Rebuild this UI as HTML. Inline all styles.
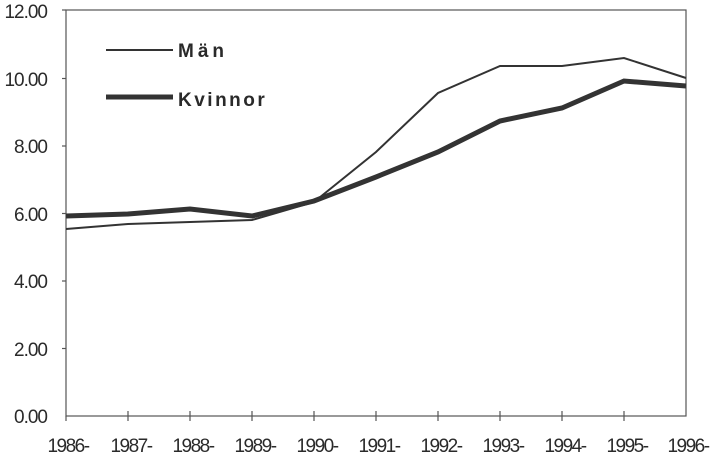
<!DOCTYPE html>
<html><head><meta charset="utf-8"><style>
html,body{margin:0;padding:0;background:#fff;}
svg{display:block;}
text{font-family:"Liberation Sans",sans-serif;fill:#2a2a2a;}
</style></head><body>
<svg width="713" height="457" viewBox="0 0 713 457" xmlns="http://www.w3.org/2000/svg">
<rect x="66" y="10" width="620" height="406" fill="none" stroke="#555" stroke-width="1.2"/>
<g stroke="#555" stroke-width="1.2">
<line x1="62" y1="10" x2="66" y2="10"/><line x1="62" y1="78.5" x2="66" y2="78.5"/><line x1="62" y1="146" x2="66" y2="146"/><line x1="62" y1="213.5" x2="66" y2="213.5"/><line x1="62" y1="281" x2="66" y2="281"/><line x1="62" y1="348.5" x2="66" y2="348.5"/>
<line x1="128" y1="411" x2="128" y2="421"/><line x1="190" y1="411" x2="190" y2="421"/><line x1="252" y1="411" x2="252" y2="421"/><line x1="314" y1="411" x2="314" y2="421"/><line x1="376" y1="411" x2="376" y2="421"/><line x1="438" y1="411" x2="438" y2="421"/><line x1="500" y1="411" x2="500" y2="421"/><line x1="562" y1="411" x2="562" y2="421"/><line x1="624" y1="411" x2="624" y2="421"/><line x1="66" y1="416" x2="66" y2="421"/>
</g>
<g font-size="19" text-anchor="end" letter-spacing="-1">
<text x="47" y="18">12.00</text><text x="47" y="86">10.00</text><text x="47" y="153">8.00</text><text x="47" y="221">6.00</text><text x="47" y="288">4.00</text><text x="47" y="356">2.00</text><text x="47" y="423">0.00</text>
</g>
<g font-size="19" text-anchor="middle" letter-spacing="-1.5">
<text x="68" y="452">1986-</text><text x="131" y="452">1987-</text><text x="193" y="452">1988-</text><text x="255" y="452">1989-</text><text x="317" y="452">1990-</text><text x="379" y="452">1991-</text><text x="441" y="452">1992-</text><text x="503" y="452">1993-</text><text x="565" y="452">1994-</text><text x="627" y="452">1995-</text><text x="688" y="452">1996-</text>
</g>
<polyline fill="none" stroke="#333" stroke-width="2" points="66,229 128,224 190,222 252,220 314,202 376,152 438,93 500,66 562,66 624,58 686,78"/>
<polyline fill="none" stroke="#333" stroke-width="5" points="66,216 128,214 190,209 252,216 314,201 376,177 438,152 500,121 562,108 624,81 686,86"/>
<line x1="106" y1="50" x2="173" y2="50" stroke="#333" stroke-width="2"/>
<line x1="106" y1="97" x2="173" y2="97" stroke="#333" stroke-width="5"/>
<text x="178" y="57" font-size="19" font-weight="bold" letter-spacing="4">Män</text>
<text x="178" y="106" font-size="19" font-weight="bold" letter-spacing="2.5">Kvinnor</text>
</svg>
</body></html>
